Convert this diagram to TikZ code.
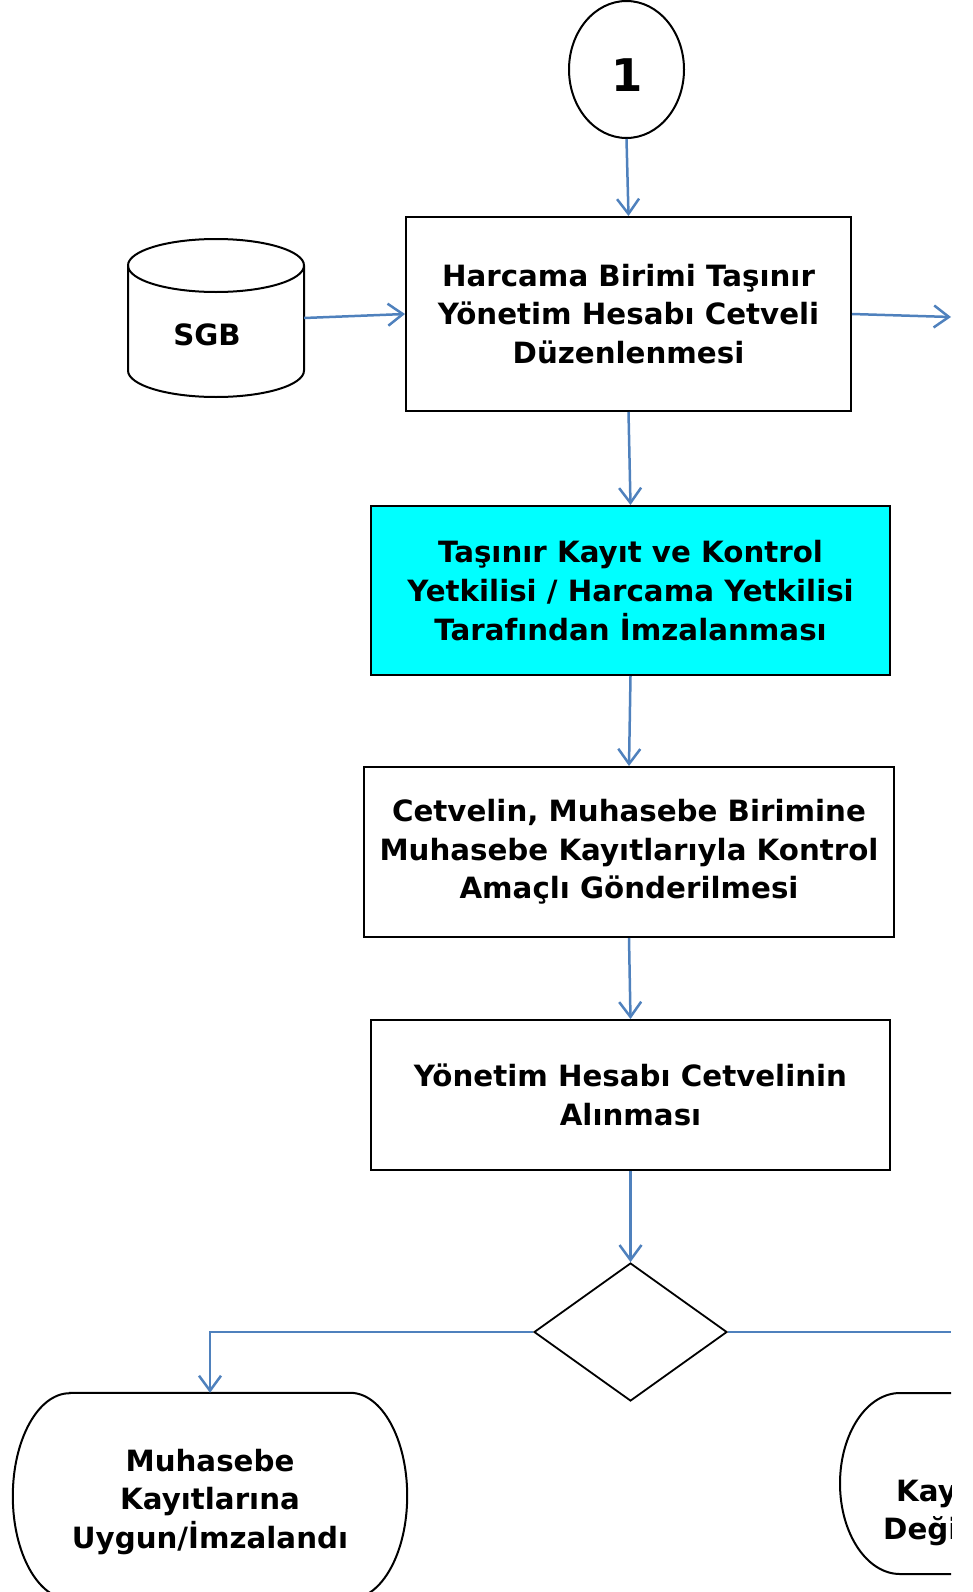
\documentclass[tikz,border=0pt]{standalone}
\usepackage{fontspec}
\setmainfont{DejaVu Sans}
\usetikzlibrary{arrows.meta,shapes.geometric,calc}
\definecolor{connblue}{RGB}{79,129,189}
\definecolor{boxcyan}{RGB}{0,255,255}
\begin{document}
\begin{tikzpicture}[x=1pt,y=-1pt,
  txt/.style={font=\bfseries\fontsize{29.3}{38.6}\selectfont, align=center},
  box/.style={txt, draw=black, line width=2pt, inner sep=0pt},
  outline/.style={draw=black, line width=2pt},
  conn/.style={draw=connblue, line width=2.5pt, -{Straight Barb[length=15pt,width=22pt]}},
  connline/.style={draw=connblue, line width=2.5pt}]
\useasboundingbox (0,0) rectangle (973,1592);
\clip (0,0) rectangle (973,1592);

% start circle
\node[draw=black, line width=2pt, ellipse, inner sep=0pt, minimum width=115pt, minimum height=137pt] (c1) at (626.5,69.5) {};
\node[font=\bfseries\fontsize{45}{50}\selectfont, inner sep=0pt] (c1text) at (627,75) {1};

% boxes
\node[box, minimum width=445pt, minimum height=194pt] (b1) at (628.5,314)
  {Harcama Birimi Taşınır\\Yönetim Hesabı Cetveli\\Düzenlenmesi};
\node[box, fill=boxcyan, minimum width=519pt, minimum height=169pt] (b2) at (630.5,590.5)
  {Taşınır Kayıt ve Kontrol\\Yetkilisi / Harcama Yetkilisi\\Tarafından İmzalanması};
\node[box, minimum width=530pt, minimum height=170pt] (b3) at (629,852)
  {Cetvelin, Muhasebe Birimine\\Muhasebe Kayıtlarıyla Kontrol\\Amaçlı Gönderilmesi};
\node[box, minimum width=519pt, minimum height=150pt] (b4) at (630.5,1095)
  {Yönetim Hesabı Cetvelinin\\Alınması};

% SGB cylinder
\node[minimum width=176pt, minimum height=158pt, inner sep=0pt] (sgb) at (216,318) {};
\draw[outline] (128,265.5) -- (128,370.5)
  arc[start angle=180,end angle=0,x radius=88,y radius=26.5] -- (304,265.5)
  arc[start angle=0,end angle=-180,x radius=88,y radius=26.5] -- cycle;
\draw[outline] (128,265.5) arc[start angle=180,end angle=0,x radius=88,y radius=26.5];
\node[txt] (sgbtext) at (207,335) {SGB};

% decision
\node[draw=black, line width=1.8pt, diamond, inner sep=0pt, aspect=1.4,
      minimum width=193pt, minimum height=138pt] (dia) at (630.5,1332) {};

% left terminal
\node[inner sep=0pt, minimum width=394pt, minimum height=206pt] (t1) at (210,1496) {};
\node[txt, font=\bfseries\fontsize{29.3}{38.2}\selectfont, inner sep=0pt] (t1text) at (210,1502)
  {Muhasebe\\Kayıtlarına\\Uygun/İmzalandı};
\draw[outline] ($(t1.north west)+(57,0)$) -- ($(t1.north east)+(-57,0)$)
  arc[start angle=-90,end angle=90,x radius=57,y radius=103]
  -- ($(t1.south west)+(57,0)$)
  arc[start angle=90,end angle=270,x radius=57,y radius=103] -- cycle;

% right terminal (cut off at the edge)
\coordinate (rout) at (951,317);
\coordinate (dout) at (951,1332);
\begin{scope}
\clip (0,0) rectangle (951,1592);
\draw[outline] (960,1393) -- (900,1393)
  arc[start angle=-90,end angle=-270,x radius=60,y radius=90.5] -- (960,1574);
\node[txt, anchor=base west, inner sep=0pt] (t2a) at (896,1501) {Kay};
\node[txt, anchor=base west, inner sep=0pt] (t2b) at (883,1539) {Deği};
\draw[connline] (dia.east) -- (dout);
\end{scope}

% connectors
\draw[conn] (c1.south) -- (b1.north);
\draw[conn] (sgb.east) -- (b1.west);
\draw[conn] (b1.east) -- (rout);
\draw[conn] (b1.south) -- (b2.north);
\draw[conn] (b2.south) -- (b3.north);
\draw[conn] (b3.south) -- (b4.north);
\draw[conn] (b4.south) -- (dia.north);
\draw[conn] (dia.west) -| (t1.north);
\end{tikzpicture}
\end{document}
